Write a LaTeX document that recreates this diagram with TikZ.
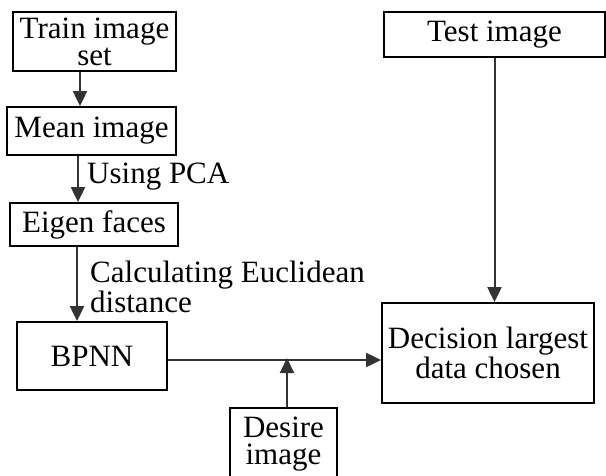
\documentclass[tikz,border=0pt]{standalone}
\usepackage{fontspec}
\setmainfont{Liberation Serif}
\usetikzlibrary{arrows.meta}
\begin{document}
\begin{tikzpicture}[x=1pt,y=-1pt,
  box/.style={draw=black,line width=1.8pt,inner sep=0pt,align=center,font=\fontsize{31}{27}\selectfont},
  arr/.style={draw=black!80,line width=2pt,-{Triangle[length=15pt,width=14pt]}},
  lbl/.style={inner sep=0pt,anchor=west,align=left,font=\fontsize{31}{30}\selectfont}]
\clip (0,0) rectangle (606,475);
\node[box,minimum width=163pt,minimum height=59pt] (train) at (94.5,41.5) {Train image\\set};
\node[box,minimum width=169pt,minimum height=48pt] (mean) at (91.5,131) {Mean image};
\node[box,minimum width=168pt,minimum height=43pt] (eigen) at (94,224.5) {Eigen faces};
\node[box,minimum width=150pt,minimum height=68pt] (bpnn) at (92,356) {BPNN};
\node[box,minimum width=107pt,minimum height=72pt] (desire) at (283.5,444) {Desire\\image};
\node[box,minimum width=221pt,minimum height=45pt] (test) at (494.5,34.5) {Test image};
\node[box,minimum width=212pt,minimum height=100pt,font=\fontsize{31}{30}\selectfont] (decision) at (488,353) {Decision largest\\data chosen};
\coordinate (x80) at (80,0);
\coordinate (x78) at (78,0);
\coordinate (x77) at (77,0);
\coordinate (y360) at (0,360);
\coordinate (x287) at (287,0);
\draw[arr] (train.south -| x80) -- (mean.north -| x80);
\draw[arr] (mean.south -| x78) -- (eigen.north -| x78);
\draw[arr] (eigen.south -| x77) -- (bpnn.north -| x77);
\draw[arr] (bpnn.east |- y360) -- (decision.west |- y360);
\draw[arr] (desire.north -| x287) -- ([yshift=2pt]x287 |- y360);
\draw[arr] (test.south) -- (test.south |- decision.north);
\node[lbl] (pca) at (87,177) {Using PCA};
\node[lbl] (euc) at (90,287) {Calculating Euclidean\\distance};
\end{tikzpicture}
\end{document}
